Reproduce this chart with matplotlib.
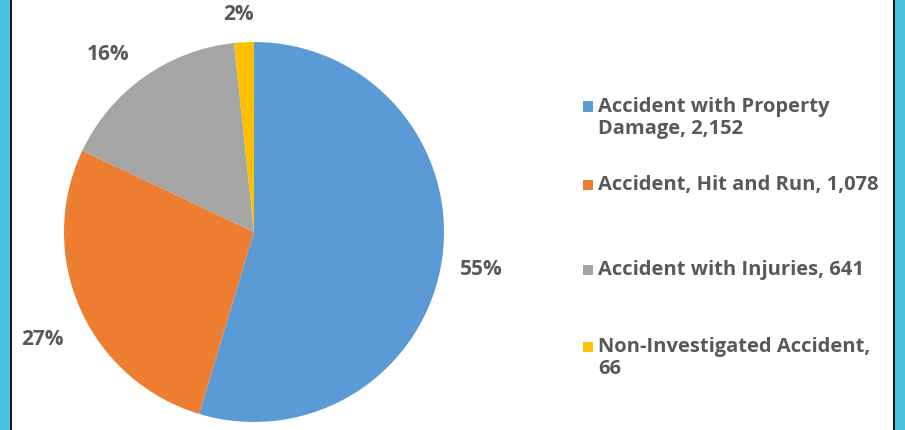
import matplotlib
matplotlib.use('Agg')
import matplotlib.pyplot as plt
from matplotlib.patches import Rectangle
import numpy as np

counts = [2152, 1078, 641, 66]
colors = ['#5B9BD5', '#ED7D31', '#A5A5A5', '#FFC000']
legend_labels = [
    'Accident with Property\nDamage, 2,152',
    'Accident, Hit and Run, 1,078',
    'Accident with Injuries, 641',
    'Non-Investigated Accident,\n66',
]
# where each percentage label sits: distance (pie radii) and angle nudge (deg)
label_dist = [1.21, 1.25, 1.21, 1.15]
label_nudge = [-1, 3, 4, 1]

plt.rcParams['font.family'] = ['Open Sans', 'DejaVu Sans']
text_color = '#595959'

W, H = 905, 430
fig = plt.figure(figsize=(W / 100, H / 100), dpi=100)
fig.patch.set_facecolor('white')

# side frame: cyan strip + black line on both sides
for x0, w, c in [(0, 10, '#4BC3E0'), (10, 2, '#111111'),
                 (895, 10, '#4BC3E0'), (893, 2, '#111111')]:
    fig.patches.append(Rectangle((x0 / W, 0), w / W, 1, transform=fig.transFigure,
                                 facecolor=c, edgecolor='none', zorder=0))

# pie axes: centre (254, 232) px, radius 190 px
cx, cy, r = 254, 232, 190
ax = fig.add_axes([(cx - r) / W, (H - cy - r) / H, 2 * r / W, 2 * r / H])
wedges, _ = ax.pie(counts, colors=colors, startangle=90, counterclock=False,
                   wedgeprops=dict(linewidth=0))
total = sum(counts)
for w, n, d, nd in zip(wedges, counts, label_dist, label_nudge):
    ang = np.deg2rad((w.theta1 + w.theta2) / 2 + nd)
    ax.text(d * np.cos(ang), d * np.sin(ang), f'{100 * n / total:.0f}%',
            ha='center', va='center', color=text_color, fontsize=15,
            fontweight='bold')
ax.set_aspect('auto')
ax.set_xlim(-1, 1)
ax.set_ylim(-1, 1)
ax.axis('off')

# legend drawn by hand (Excel-like uneven spacing)
ys = [118, 185, 270, 358]
for lab, col, y in zip(legend_labels, colors, ys):
    first = y - 11.5 if '\n' in lab else y
    fig.patches.append(Rectangle((583 / W, (H - first - 5) / H), 10 / W, 10 / H,
                                 transform=fig.transFigure, facecolor=col,
                                 edgecolor='none'))
    fig.text(598 / W, (H - y) / H, lab, ha='left', va='center',
             fontsize=14.5, fontweight='bold', color=text_color,
             linespacing=1.12)

fig.savefig('out.png', dpi=100)
